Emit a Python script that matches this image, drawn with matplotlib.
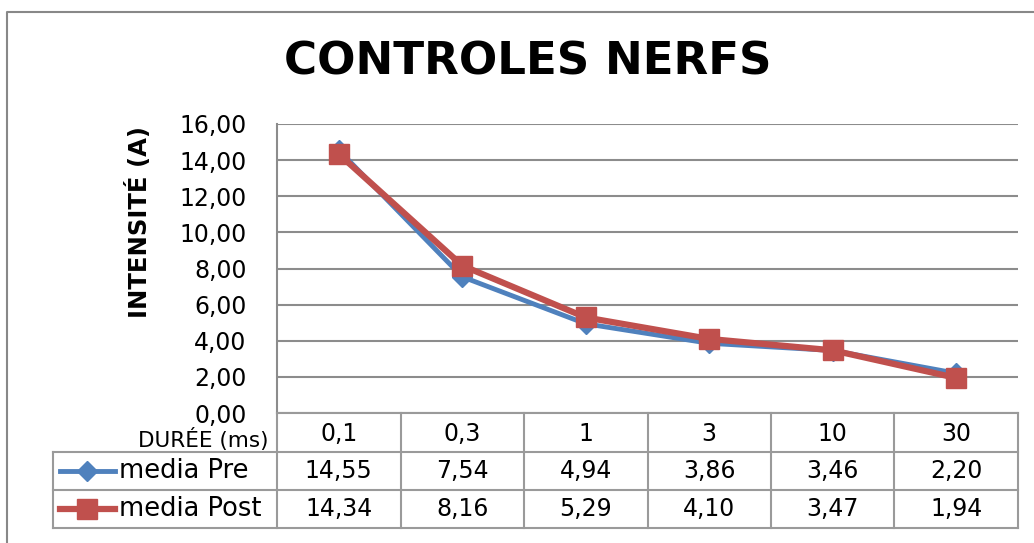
import matplotlib
matplotlib.use("Agg")
import matplotlib.pyplot as plt
from matplotlib.lines import Line2D
import matplotlib.transforms as mtransforms

categories = ["0,1", "0,3", "1", "3", "10", "30"]
pre = [14.55, 7.54, 4.94, 3.86, 3.46, 2.20]
post = [14.34, 8.16, 5.29, 4.10, 3.47, 1.94]
series_names = ["media Pre", "media Post"]
yticks = [0, 2, 4, 6, 8, 10, 12, 14, 16]
title = "CONTROLES NERFS"
ylabel = "INTENSITÉ (A)"
xlabel = "DURÉE (ms)"

W, H = 1034, 543
BLUE = "#4F81BD"
RED = "#C0504D"
GRID = "#8C8C8C"
TBL = "#9A9A9A"

plt.rcParams['font.family'] = ['DejaVu Sans']
fig = plt.figure(figsize=(W / 100, H / 100), dpi=100)

def fx(px):
    return px / W

def fy(py):
    return 1 - py / H

L, R, T, B = 277, 1018, 124, 413
ax = fig.add_axes([fx(L), fy(B), fx(R - L), (B - T) / H])
x = list(range(len(categories)))
ax.plot(x, pre, color=BLUE, lw=3.5, marker="D", ms=10, mfc=BLUE, mec=BLUE, zorder=3)
ax.plot(x, post, color=RED, lw=4.5, marker="s", ms=14, mfc=RED, mec=RED, zorder=4)
ax.set_xlim(-0.5, len(categories) - 0.5)
ax.set_ylim(0, 16)
ax.set_yticks(yticks)
ax.set_yticklabels([f"{v:.2f}".replace(".", ",") for v in yticks], fontsize=17)
ax.set_xticks([])
ax.yaxis.grid(True, color=GRID, lw=1.5)
ax.tick_params(axis="y", length=0, pad=22)
for s in ["top", "right", "bottom"]:
    ax.spines[s].set_visible(False)
ax.spines["left"].set_color(GRID)
ax.spines["left"].set_linewidth(1.5)
ax.set_axisbelow(True)

fig.text(fx(528), fy(62), title, ha="center", va="center", fontsize=32.5, fontweight="bold")
fig.text(fx(139), fy(222), ylabel, ha="center", va="center", rotation=90, fontsize=17.5, fontweight="bold")

# table
row_y = [413, 452, 490, 528]
trans = mtransforms.blended_transform_factory(ax.transData, fig.transFigure)

def hline(y, x0, x1):
    fig.add_artist(Line2D([fx(x0), fx(x1)], [fy(y), fy(y)], color=TBL, lw=1.5))

def vline(xp, y0, y1):
    fig.add_artist(Line2D([fx(xp), fx(xp)], [fy(y0), fy(y1)], color=TBL, lw=1.5))

hline(413, L, R)
for y in row_y[1:]:
    hline(y, 53, R)
vline(L, 413, 528)
vline(53, 452, 528)
for i in range(len(categories)):
    xb = ax.transData.transform((i + 0.5, 0))[0]
    fig.add_artist(Line2D([xb / W, xb / W], [fy(413), fy(528)], color=TBL, lw=1.5))

fig.text(fx(268), fy(440), xlabel, ha="right", va="center", fontsize=15.5)
for i, c in enumerate(categories):
    fig.text(i, fy(434), c, transform=trans, ha="center", va="center", fontsize=17)
for r, (vals, col, mk, ms, lw) in enumerate([(pre, BLUE, "D", 10, 3.5), (post, RED, "s", 14, 4.5)]):
    yc = (row_y[r + 1] + row_y[r + 2]) / 2
    for i, v in enumerate(vals):
        fig.text(i, fy(yc), f"{v:.2f}".replace(".", ","), transform=trans,
                 ha="center", va="center", fontsize=17)
    fig.add_artist(Line2D([fx(60), fx(115)], [fy(yc), fy(yc)], color=col, lw=lw,
                          marker=None))
    fig.add_artist(Line2D([fx(87)], [fy(yc)], color=col, marker=mk, ms=ms, mfc=col, mec=col, lw=0))
    fig.text(fx(119), fy(yc), series_names[r], ha="left", va="center", fontsize=18.5)

# outer frame
fig.add_artist(Line2D([fx(7), fx(7), fx(W + 5)], [fy(H + 5), fy(12), fy(12)], color="#888888", lw=1.5))

fig.savefig("out.png", dpi=100)
